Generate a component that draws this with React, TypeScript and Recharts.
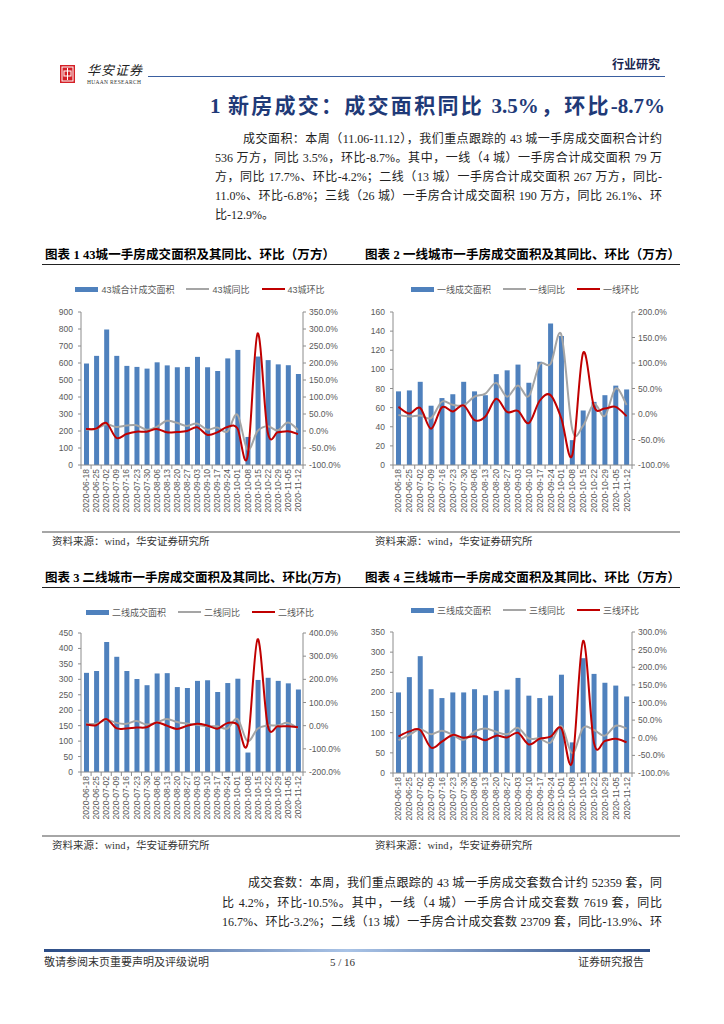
import React from 'react';
import { ComposedChart, Bar, Line, XAxis, YAxis, Legend } from 'recharts';

// ---------- data ----------
const dates = [
  '2020-06-18', '2020-06-25', '2020-07-02', '2020-07-09', '2020-07-16', '2020-07-23',
  '2020-07-30', '2020-08-06', '2020-08-13', '2020-08-20', '2020-08-27', '2020-09-03',
  '2020-09-10', '2020-09-17', '2020-09-24', '2020-10-01', '2020-10-08', '2020-10-15',
  '2020-10-22', '2020-10-29', '2020-11-05', '2020-11-12',
];

const area43 = [597, 642, 797, 642, 583, 577, 567, 604, 586, 575, 577, 636, 575, 553, 627, 677, 165, 638, 617, 592, 587, 536];
const yoy43 = [4, 6, 20, 12, 16, 17, 4, 12, 30, 24, 15, 22, 4, 10, -2, 48, -55, 0, 14, 2, 25, 3.5];
const mom43 = [6, 7, 24, -20, -9, -2, -2, 6, -4, -3, 0, 11, -11, -4, 12, 8, -76, 287, -3, -4, -1, -8.7];

const area1 = [77, 78, 87, 62, 70, 74, 87, 77, 73, 95, 99, 105, 86, 108, 148, 135, 26, 57, 66, 73, 83, 79];
const yoy1 = [-2, -5, -3, -8, 24, 18, 17, 34, 40, 61, 34, 56, 35, 97, 98, 155, -30, -23, 20, -4, 50, 17.7];
const mom1 = [14, 1, 12, -29, 13, 5, 17, -12, -5, 30, 4, 6, -18, 26, 37, -9, -81, 120, 15, 11, 14, -4.2];

const area2 = [321, 327, 421, 373, 327, 301, 281, 319, 320, 275, 272, 295, 297, 259, 288, 302, 63, 298, 305, 295, 287, 267];
const yoy2 = [9, 8, 26, 12, 8, 20, 5, 14, 29, 16, 9, 4, -3, -3, -12, 29, -67, -13, 1, 1, 12, -11];
const mom2 = [5, 2, 29, -11, -12, -8, -7, 14, 0, -14, -1, 8, 1, -13, 11, 5, -79, 373, 2, -3, -3, -6.8];

const area3 = [200, 238, 290, 208, 186, 200, 200, 208, 193, 204, 207, 236, 192, 186, 192, 244, 76, 285, 246, 224, 217, 190];
const yoy3 = [-7, 8, 24, 10, 20, 8, -6, 17, 26, 17, 10, 28, -2, -2, -14, 33, -44, 28, 22, 6, 34, 26.1];
const mom3 = [4, 18, 22, -28, -11, 8, 0, 4, -7, 6, 1, 14, -19, -3, 3, 27, -69, 275, -14, -9, -3, -12.9];

const leftTicks43 = [0, 100, 200, 300, 400, 500, 600, 700, 800, 900];
const rightTicks43 = [-100, -50, 0, 50, 100, 150, 200, 250, 300, 350];
const leftTicks1 = [0, 20, 40, 60, 80, 100, 120, 140, 160];
const rightTicks1 = [-100, -50, 0, 50, 100, 150, 200];
const leftTicks2 = [0, 50, 100, 150, 200, 250, 300, 350, 400, 450];
const rightTicks2 = [-200, -100, 0, 100, 200, 300, 400];
const leftTicks3 = [0, 50, 100, 150, 200, 250, 300, 350];
const rightTicks3 = [-100, -50, 0, 50, 100, 150, 200, 250, 300];

const legend43 = ['43城合计成交面积', '43城同比', '43城环比'];
const legend1 = ['一线成交面积', '一线同比', '一线环比'];
const legend2 = ['二线成交面积', '二线同比', '二线环比'];
const legend3 = ['三线成交面积', '三线同比', '三线环比'];

// ---------- styles ----------
const BLUE = '#4F81BD';
const GRAY = '#A5A5A5';
const RED = '#C00000';
const AXIS = '#8C8C8C';
const TICK = '#595959';
const SANS = '"Liberation Sans", Arial, "Noto Sans CJK SC", sans-serif';
const SERIF = '"Liberation Serif", "Noto Sans CJK SC", serif';
const NAVY = '#1F3A78';

// Excel-like smoothed line (Catmull-Rom style bezier)
function excelCurve(context: any) {
  let pts: number[][] = [];
  return {
    areaStart() {},
    areaEnd() {},
    lineStart() {
      pts = [];
    },
    lineEnd() {
      const n = pts.length;
      if (n === 0) return;
      context.moveTo(pts[0][0], pts[0][1]);
      for (let i = 0; i < n - 1; i++) {
        const p0 = pts[Math.max(0, i - 1)];
        const p1 = pts[i];
        const p2 = pts[i + 1];
        const p3 = pts[Math.min(n - 1, i + 2)];
        context.bezierCurveTo(
          p1[0] + (p2[0] - p0[0]) / 6,
          p1[1] + (p2[1] - p0[1]) / 6,
          p2[0] - (p3[0] - p1[0]) / 6,
          p2[1] - (p3[1] - p1[1]) / 6,
          p2[0],
          p2[1]
        );
      }
    },
    point(x: number, y: number) {
      pts.push([+x, +y]);
    },
  };
}

const XTick = (props: any) => {
  const { x, payload, bw, axisY } = props;
  const idx = dates.indexOf(payload.value);
  const tx = x + 3;
  const ty = axisY + 4;
  return (
    <g>
      <line x1={x - bw / 2} x2={x - bw / 2} y1={axisY} y2={axisY + 4} stroke={AXIS} />
      {idx === dates.length - 1 && (
        <line x1={x + bw / 2} x2={x + bw / 2} y1={axisY} y2={axisY + 4} stroke={AXIS} />
      )}
      <text
        x={tx}
        y={ty}
        transform={`rotate(-90, ${tx}, ${ty})`}
        textAnchor="end"
        fontSize={8.5}
        fontFamily={SANS}
        fill={TICK}
      >
        {payload.value}
      </text>
    </g>
  );
};

const LegendBox = ({ names }: { names: string[] }) => {
  const item = (icon: React.ReactNode, label: string) => (
    <div style={{ display: 'flex', alignItems: 'center', marginRight: 12 }}>
      {icon}
      <span style={{ marginLeft: 3 }}>{label}</span>
    </div>
  );
  return (
    <div
      style={{
        display: 'flex',
        justifyContent: 'center',
        alignItems: 'center',
        fontSize: 9,
        fontFamily: SANS,
        color: TICK,
        whiteSpace: 'nowrap',
        height: 16,
        paddingLeft: 12,
      }}
    >
      {item(<div style={{ width: 23, height: 5, background: BLUE }} />, names[0])}
      {item(<div style={{ width: 23, height: 2.5, background: GRAY }} />, names[1])}
      {item(<div style={{ width: 23, height: 2.5, background: RED }} />, names[2])}
    </div>
  );
};

type Cfg = {
  x: number; y: number; w: number; h: number; lw: number; rw: number; mt: number; xh: number;
  legendY: number; names: string[]; bars: number[]; yoy: number[]; mom: number[];
  lt: number[]; rt: number[];
};

const Panel = ({ c }: { c: Cfg }) => {
  const data = dates.map((d, i) => ({ date: d, area: c.bars[i], yoy: c.yoy[i], mom: c.mom[i] }));
  const plotW = c.w - c.lw - c.rw;
  const bw = plotW / dates.length;
  const axisY = c.h - c.xh;
  const tickStyle = { fontSize: 8.5, fill: TICK, fontFamily: SANS };
  return (
    <div style={{ position: 'absolute', left: c.x, top: c.y }}>
      <ComposedChart width={c.w} height={c.h} data={data} margin={{ top: c.mt, right: 0, bottom: 0, left: 0 }}>
        <XAxis
          dataKey="date"
          height={c.xh}
          interval={0}
          tickLine={false}
          axisLine={{ stroke: AXIS }}
          tick={<XTick bw={bw} axisY={axisY} />}
        />
        <YAxis
          yAxisId="l"
          orientation="left"
          width={c.lw}
          domain={[c.lt[0], c.lt[c.lt.length - 1]]}
          ticks={c.lt}
          interval={0}
          tickSize={3}
          tickMargin={5}
          axisLine={{ stroke: AXIS }}
          tickLine={{ stroke: AXIS }}
          tick={tickStyle}
        />
        <YAxis
          yAxisId="r"
          orientation="right"
          width={c.rw}
          domain={[c.rt[0], c.rt[c.rt.length - 1]]}
          ticks={c.rt}
          interval={0}
          tickSize={3}
          tickMargin={3}
          axisLine={{ stroke: AXIS }}
          tickLine={{ stroke: AXIS }}
          tick={tickStyle}
          tickFormatter={(v: number) => `${v.toFixed(1)}%`}
        />
        <Legend
          verticalAlign="middle"
          align="center"
          layout="horizontal"
          wrapperStyle={{ top: c.legendY - 8, left: 0, width: c.w, height: 16 }}
          content={() => <LegendBox names={c.names} />}
        />
        <Bar yAxisId="l" dataKey="area" fill={BLUE} barSize={5} isAnimationActive={false} />
        <Line
          yAxisId="r"
          dataKey="yoy"
          type={excelCurve as any}
          stroke={GRAY}
          strokeWidth={2}
          dot={false}
          activeDot={false}
          isAnimationActive={false}
        />
        <Line
          yAxisId="r"
          dataKey="mom"
          type={excelCurve as any}
          stroke={RED}
          strokeWidth={2}
          dot={false}
          activeDot={false}
          isAnimationActive={false}
        />
      </ComposedChart>
    </div>
  );
};

const panels: Cfg[] = [
  { x: 40, y: 270, w: 320, h: 250, lw: 41, rw: 57, mt: 42, xh: 55, legendY: 19, names: legend43, bars: area43, yoy: yoy43, mom: mom43, lt: leftTicks43, rt: rightTicks43 },
  { x: 360, y: 270, w: 330, h: 250, lw: 33, rw: 58, mt: 42, xh: 55, legendY: 19, names: legend1, bars: area1, yoy: yoy1, mom: mom1, lt: leftTicks1, rt: rightTicks1 },
  { x: 40, y: 590, w: 320, h: 250, lw: 41, rw: 57, mt: 43, xh: 68, legendY: 22, names: legend2, bars: area2, yoy: yoy2, mom: mom2, lt: leftTicks2, rt: rightTicks2 },
  { x: 360, y: 590, w: 330, h: 250, lw: 33, rw: 58, mt: 42, xh: 67, legendY: 20, names: legend3, bars: area3, yoy: yoy3, mom: mom3, lt: leftTicks3, rt: rightTicks3 },
];

// ---------- text helpers ----------
const Txt = ({ x, cy, size, w, justify, children, style }: any) => (
  <div
    style={{
      position: 'absolute',
      left: x,
      top: cy - size * 0.65,
      width: w,
      fontSize: size,
      lineHeight: `${size * 1.3}px`,
      whiteSpace: 'nowrap',
      textAlign: justify ? 'justify' : 'left',
      textAlignLast: justify ? 'justify' : 'auto',
      ...style,
    }}
  >
    {children}
  </div>
);

const para1 = [
  '成交面积：本周（11.06-11.12），我们重点跟踪的 43 城一手房成交面积合计约',
  '536 万方，同比 3.5%，环比-8.7%。其中，一线（4 城）一手房合计成交面积 79 万',
  '方，同比 17.7%、环比-4.2%；二线（13 城）一手房合计成交面积 267 万方，同比-',
  '11.0%、环比-6.8%；三线（26 城）一手房合计成交面积 190 万方，同比 26.1%、环',
  '比-12.9%。',
];
const para2 = [
  '成交套数：本周，我们重点跟踪的 43 城一手房成交套数合计约 52359 套，同',
  '比 4.2%，环比-10.5%。其中，一线（4 城）一手房合计成交套数 7619 套，同比',
  '16.7%、环比-3.2%；二线（13 城）一手房合计成交套数 23709 套，同比-13.9%、环',
];
const chartTitles = [
  '图表 1 43城一手房成交面积及其同比、环比（万方）',
  '图表 2 一线城市一手房成交面积及其同比、环比（万方）',
  '图表 3 二线城市一手房成交面积及其同比、环比(万方)',
  '图表 4 三线城市一手房成交面积及其同比、环比（万方）',
];
const sourceText = '资料来源：wind，华安证券研究所';

export default function App() {
  const bodyStyle = { fontFamily: SERIF, color: '#222' };
  const titleStyle = { fontFamily: SERIF, fontWeight: 700, color: '#000' };
  const srcStyle = { fontFamily: SERIF, color: '#333' };
  return (
    <div style={{ position: 'absolute', left: 0, top: 0, width: 724, height: 1024, background: '#fff', overflow: 'hidden' }}>
      {/* header */}
      <svg style={{ position: 'absolute', left: 60, top: 65 }} width={15} height={18}>
        <rect x={0} y={0} width={15} height={18} fill="#D42027" />
        <rect x={2} y={2} width={11} height={14} fill="none" stroke="#fff" strokeWidth={1} />
        <rect x={4} y={6} width={7} height={5} fill="none" stroke="#fff" strokeWidth={1} />
        <line x1={7.5} y1={3} x2={7.5} y2={15} stroke="#fff" strokeWidth={1} />
      </svg>
      <Txt x={87} cy={71} size={13} style={{ fontFamily: SERIF, color: '#222', letterSpacing: 1, fontStyle: 'italic' }}>华安证券</Txt>
      <Txt x={87} cy={83} size={5.5} style={{ fontFamily: SERIF, color: '#333', letterSpacing: 0.3 }}>HUAAN RESEARCH</Txt>
      <div style={{ position: 'absolute', left: 148, top: 76, width: 517, height: 1, background: '#3A5FA0' }} />
      <Txt x={612} cy={66} size={12} style={{ fontFamily: SERIF, fontWeight: 700, color: '#1a2650' }}>行业研究</Txt>

      {/* section title */}
      <Txt x={210} cy={107} size={21} w={455} justify style={{ fontFamily: SERIF, fontWeight: 700, color: NAVY }}>
        1 新房成交：成交面积同比 3.5%，环比-8.7%
      </Txt>

      {/* paragraph 1 */}
      {para1.map((t, i) => (
        <Txt
          key={i}
          x={i === 0 ? 243 : 215}
          cy={140 + i * 19}
          size={12}
          w={i === para1.length - 1 ? undefined : (i === 0 ? 662 - 243 : 662 - 215)}
          justify={i !== para1.length - 1}
          style={bodyStyle}
        >
          {t}
        </Txt>
      ))}

      {/* chart titles row 1 */}
      <Txt x={45} cy={255} size={12.5} w={290} justify style={titleStyle}>{chartTitles[0]}</Txt>
      <Txt x={365} cy={255} size={12.5} w={315} justify style={titleStyle}>{chartTitles[1]}</Txt>
      <div style={{ position: 'absolute', left: 42, top: 264, width: 638, height: 1, background: '#222' }} />

      {/* chart titles row 2 */}
      <Txt x={45} cy={578} size={12.5} w={295} justify style={titleStyle}>{chartTitles[2]}</Txt>
      <Txt x={365} cy={578} size={12.5} w={315} justify style={titleStyle}>{chartTitles[3]}</Txt>
      <div style={{ position: 'absolute', left: 42, top: 587, width: 638, height: 1, background: '#222' }} />

      {panels.map((c, i) => (
        <Panel key={i} c={c} />
      ))}

      {/* sources */}
      <div style={{ position: 'absolute', left: 42, top: 531, width: 638, height: 2, background: '#A6A6A6' }} />
      <Txt x={52} cy={542} size={10.5} style={srcStyle}>{sourceText}</Txt>
      <Txt x={375} cy={542} size={10.5} style={srcStyle}>{sourceText}</Txt>
      <div style={{ position: 'absolute', left: 42, top: 835, width: 638, height: 2, background: '#A6A6A6' }} />
      <Txt x={52} cy={846} size={10.5} style={srcStyle}>{sourceText}</Txt>
      <Txt x={375} cy={846} size={10.5} style={srcStyle}>{sourceText}</Txt>

      {/* paragraph 2 */}
      {para2.map((t, i) => (
        <Txt
          key={i}
          x={i === 0 ? 248 : 222}
          cy={884 + i * 19.5}
          size={12}
          w={i === 0 ? 662 - 248 : 662 - 222}
          justify
          style={bodyStyle}
        >
          {t}
        </Txt>
      ))}

      {/* footer */}
      <div
        style={{
          position: 'absolute',
          left: 44,
          top: 949,
          width: 606,
          height: 3,
          background: 'linear-gradient(90deg, #2B4C86 0%, #A9C3E6 50%, #2B4C86 100%)',
        }}
      />
      <Txt x={44} cy={962} size={11} style={srcStyle}>敬请参阅末页重要声明及评级说明</Txt>
      <Txt x={330} cy={962} size={11} style={srcStyle}>5 / 16</Txt>
      <Txt x={578} cy={962} size={11} w={63} justify style={srcStyle}>证券研究报告</Txt>
    </div>
  );
}
